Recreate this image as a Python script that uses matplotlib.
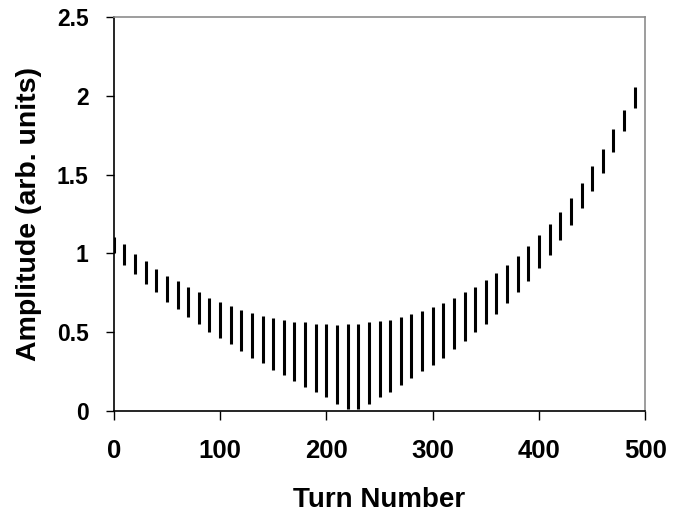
import matplotlib
matplotlib.use("Agg")
import matplotlib.pyplot as plt

turns = list(range(0, 500, 10))
amp_high = [1.107, 1.058, 0.997, 0.954, 0.902, 0.857, 0.823, 0.789, 0.753, 0.720,
            0.694, 0.667, 0.641, 0.624, 0.605, 0.590, 0.580, 0.563, 0.563, 0.554,
            0.554, 0.546, 0.554, 0.554, 0.563, 0.571, 0.580, 0.599, 0.616, 0.633,
            0.658, 0.684, 0.720, 0.753, 0.789, 0.832, 0.874, 0.927, 0.986, 1.048,
            1.118, 1.188, 1.264, 1.351, 1.446, 1.552, 1.664, 1.787, 1.908, 2.056]
amp_low = [1.005, 0.927, 0.868, 0.806, 0.753, 0.694, 0.650, 0.599, 0.554, 0.504,
           0.461, 0.425, 0.381, 0.339, 0.305, 0.260, 0.227, 0.190, 0.154, 0.123,
           0.087, 0.044, 0.011, 0.011, 0.047, 0.087, 0.123, 0.166, 0.208, 0.252,
           0.294, 0.339, 0.392, 0.444, 0.504, 0.554, 0.616, 0.686, 0.753, 0.823,
           0.910, 0.989, 1.082, 1.179, 1.285, 1.395, 1.509, 1.641, 1.779, 1.925]
x_ticks = [0, 100, 200, 300, 400, 500]
y_ticks = [0, 0.5, 1, 1.5, 2, 2.5]
y_tick_labels = ["0", "0.5", "1", "1.5", "2", "2.5"]

plt.rcParams['font.family'] = ['Liberation Sans', 'DejaVu Sans']
plt.rcParams['font.weight'] = 'bold'

fig = plt.figure(figsize=(6.83, 5.12), dpi=100)
ax = fig.add_axes([0.1665, 0.1973, 0.7783, 0.7695])
ax.vlines(turns, amp_low, amp_high, colors='black', linewidth=2.2)

ax.set_xlim(0, 500)
ax.set_ylim(0, 2.5)
ax.set_xticks(x_ticks)
ax.set_xticklabels([str(t) for t in x_ticks], fontsize=18.5, fontweight='bold')
ax.set_yticks(y_ticks)
ax.set_yticklabels(y_tick_labels, fontsize=16.5, fontweight='bold')
ax.tick_params(axis='y', direction='out', length=6, width=1, pad=12)
ax.tick_params(axis='x', direction='out', length=6.5, width=1, pad=14)

for s in ['left', 'bottom']:
    ax.spines[s].set_color('black')
    ax.spines[s].set_linewidth(1.2)
for s in ['top', 'right']:
    ax.spines[s].set_color('#8c8c8c')
    ax.spines[s].set_linewidth(1.2)

ax.set_xlabel('Turn Number', fontsize=20, fontweight='bold', labelpad=17)
ax.set_ylabel('Amplitude (arb. units)', fontsize=20.5, fontweight='bold', labelpad=11)

fig.savefig('out.png', dpi=100)
